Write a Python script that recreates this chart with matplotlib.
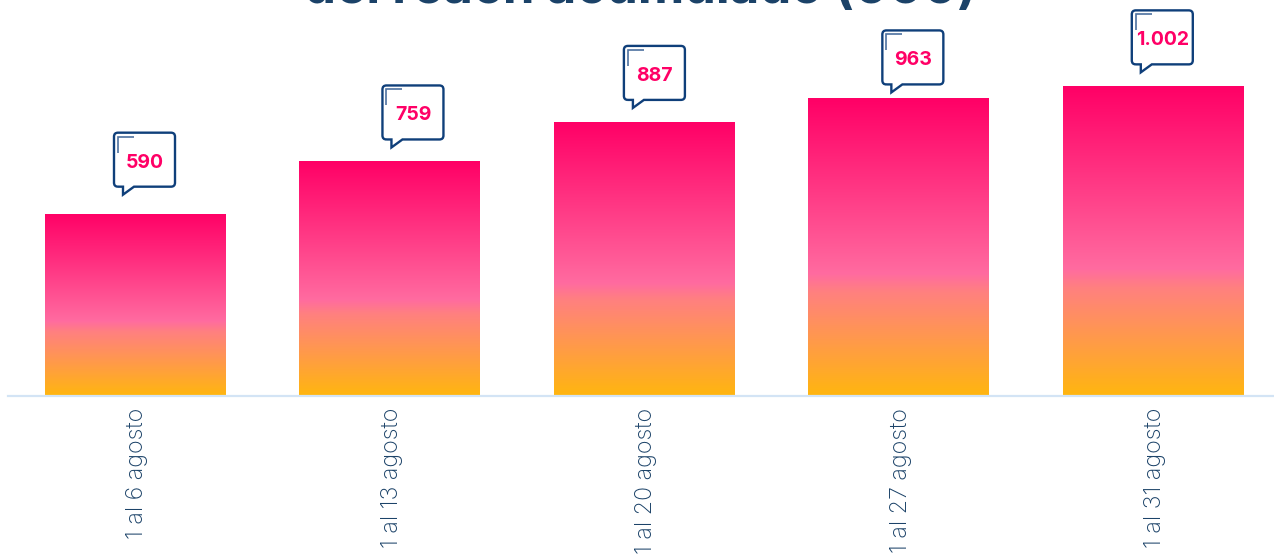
import numpy as np
import matplotlib
matplotlib.use('Agg')
import matplotlib.pyplot as plt
from matplotlib.colors import LinearSegmentedColormap
from matplotlib.patches import PathPatch
from matplotlib.path import Path
from matplotlib.transforms import Affine2D, ScaledTranslation

# datos
periodos = ['1 al 6 agosto', '1 al 13 agosto', '1 al 20 agosto', '1 al 27 agosto', '1 al 31 agosto']
reach = [590, 759, 887, 963, 1002]
etiquetas = ['590', '759', '887', '963', '1.002']
titulo = 'del reach acumulado (000)'

# desplazamiento de cada globo respecto a lo alto de su barra (pixeles)
globo_dx = [-21, -7, -20, -16, -21]
globo_dy = [27, 22, 22, 14, 22]
GLOBO_W, GLOBO_H = 61, 54

AZUL = '#1B4268'
NAVY = '#0F3F7A'
ROSA = '#FF0066'

degradado = LinearSegmentedColormap.from_list('barra', [
    (0.0, '#FFB60F'), (0.35, '#FF8080'), (0.41, '#FF6BA0'), (1.0, '#FF0066')])


def camino_globo(w, h, r=4):
    # globo con su pico abajo a la izquierda
    verts = [(r, 0), (9, 0), (9, -8), (20, 0), (w - r, 0), (w, 0), (w, r), (w, h - r), (w, h), (w - r, h),
             (r, h), (0, h), (0, h - r), (0, r), (0, 0), (r, 0)]
    codes = [Path.MOVETO, Path.LINETO, Path.LINETO, Path.LINETO, Path.LINETO, Path.CURVE3, Path.CURVE3,
             Path.LINETO, Path.CURVE3, Path.CURVE3, Path.LINETO, Path.CURVE3, Path.CURVE3, Path.LINETO,
             Path.CURVE3, Path.CURVE3]
    return Path(verts, codes)


plt.rcParams['font.family'] = ['Inter', 'DejaVu Sans']

fig = plt.figure(figsize=(12.74, 5.54), dpi=100, facecolor='white')
ax = fig.add_axes([8 / 1274, 158 / 554, 1266 / 1274, 396 / 554])

x = np.arange(len(reach))
barras = ax.bar(x, reach, width=0.7075, color='none', linewidth=0)

# relleno en degradado, recortado a cada barra
gradiente = np.linspace(1, 0, 256).reshape(-1, 1)
for barra in barras:
    izq, der = barra.get_x(), barra.get_x() + barra.get_width()
    img = ax.imshow(gradiente, cmap=degradado, extent=(izq, der, 0, barra.get_height()),
                    aspect='auto', zorder=2, vmin=0, vmax=1)
    img.set_clip_path(barra)

ax.set_xlim(-127 / 254.45, 1139 / 254.45)
ax.set_ylim(0, 1281.5)
ax.set_yticks([])
ax.set_xticks(x)
ax.set_xticklabels(periodos, rotation=90, fontsize=16.8, color=AZUL, fontweight='light')
ax.tick_params(axis='x', length=0, pad=8.5)
# las etiquetas van unos pixeles a la derecha
for t in ax.get_xticklabels():
    t.set_transform(t.get_transform() + ScaledTranslation(2.5 / 100, 0, fig.dpi_scale_trans))
for lado in ['top', 'left', 'right']:
    ax.spines[lado].set_visible(False)
ax.spines['bottom'].set_color('#D3E4F5')
ax.spines['bottom'].set_linewidth(1.6)

# globos con el valor
for i in range(len(reach)):
    px, py = ax.transData.transform((x[i], reach[i]))
    tr = Affine2D().translate(px + globo_dx[i], py + globo_dy[i])
    ax.add_patch(PathPatch(camino_globo(GLOBO_W, GLOBO_H), facecolor='white', edgecolor=NAVY,
                           linewidth=1.7, transform=tr, clip_on=False, zorder=3))
    ax.add_patch(PathPatch(Path([(4, GLOBO_H - 20), (4, GLOBO_H - 4), (20, GLOBO_H - 4)]), facecolor='none',
                           edgecolor='#4D719F', linewidth=1.2, transform=tr, clip_on=False, zorder=4))
    ax.text(GLOBO_W / 2, GLOBO_H / 2 - 3, etiquetas[i], transform=tr, ha='center', va='center',
            fontsize=14, fontweight='bold', color=ROSA, zorder=5)

# el titulo sale cortado por arriba
fig.text(640 / 1274, 1 - 3 / 554, titulo, ha='center', va='baseline', fontsize=36.7,
         fontweight='bold', color=AZUL)

fig.savefig('out.png', dpi=100)
